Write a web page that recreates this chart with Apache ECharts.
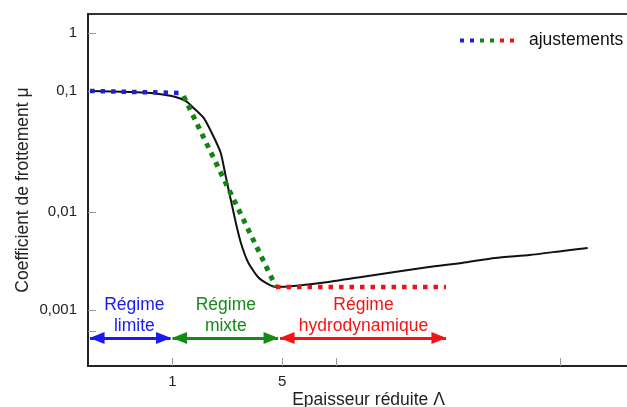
<!DOCTYPE html>
<html><head><meta charset="utf-8">
<script src="https://cdn.jsdelivr.net/npm/echarts@6/dist/echarts.min.js"></script>
<style>html,body{margin:0;padding:0;background:#fff}#c{width:627px;height:407px}</style>
</head><body><div id="c"></div>
<script>
// Stribeck curve — reduced thickness Λ (x) vs friction coefficient μ (y)
const curveLambda = [0.298,0.538,0.723,0.902,1.045,1.211,1.363,1.580,1.831,2.03,2.187,2.354,2.534,2.729,3.026,3.507,4.064,4.57,5.97,9.85,16.0,26.1,43.1,70.2,114,189,307,444];
const curveMu     = [0.1,0.0981,0.0963,0.0927,0.0892,0.0827,0.0724,0.0599,0.0417,0.0307,0.0195,0.01256,0.00773,0.00483,0.00309,0.00217,0.00184,0.00172,0.00176,0.00193,0.00217,0.00244,0.00275,0.00302,0.00340,0.00364,0.00400,0.00429];

// fitted asymptotes ("ajustements")
const fitLimiteLambda = [0.298, 1.125], fitLimiteMu = [0.1, 0.0963];
const fitMixteLambda  = [1.176, 4.57],  fitMixteMu  = [0.0909, 0.00172];
const fitHydroLambda  = [4.57, 55.4],   fitHydroMu  = [0.00172, 0.00172];

// regimes
const regimeNames   = ['Régime\nlimite', 'Régime\nmixte', 'Régime\nhydrodynamique'];
const regimeStart   = [0.298, 1.0, 4.85];
const regimeEnd     = [0.971, 4.71, 55.4];
const regimeLabelAt = [0.571, 2.186, 16.5];
const regimeArrowMu = 0.000518;
const regimeLabelMu = 0.000868;

// ticks
const yTickMu     = [0.001, 0.01, 0.1, 1];
const yTickLabels = ['0,001', '0,01', '0,1', '1'];
const yMinorTickMu = [0.0006];
const xTickLambda = [1, 5, 11, 295];
const xTickLabels = ['1', '5', '', ''];
const xRangeLambda = [0.289, 889];
const yRangeMu = [0.000268, 2.126];

// schematic (non-uniform) log scale of the original figure for μ
const yDecadeScale = [[-3, 56], [-2, 154], [-1, 275], [0, 333]];
function fy(mu) {
  const l = Math.log10(mu);
  const i = l < -2 ? 0 : (l < -1 ? 1 : 2);
  const a = yDecadeScale[i], b = yDecadeScale[i + 1];
  return a[1] + (l - a[0]) * (b[1] - a[1]) / (b[0] - a[0]);
}
const fx = v => Math.log10(v);
const r4 = v => Math.round(v * 10000) / 10000;

const colors = { limite: '#1f1fd6', mixte: '#128412', hydro: '#f01212' };
const textColors = ['#1a1af0', '#168a16', '#f41414'];
const FONT = 'Liberation Sans, Arial, sans-serif';

const pairs = (xs, ys) => xs.map((x, i) => [fx(x), fy(ys[i])]);

const fitStyle = (c, w) => ({ color: c, width: w, type: [w, 10.5 - w], cap: 'butt' });

const xTickVals = xTickLambda.map(fx).map(r4);
const yTickVals = yTickMu.map(fy).map(r4);
const yAllTicks = yTickVals.concat(yMinorTickMu.map(fy).map(r4));

const option = {
  animation: false,
  backgroundColor: '#fff',
  grid: { left: 88, top: 14, right: -8, bottom: 41, containLabel: false, outerBoundsMode: 'none',
    show: true, borderColor: '#333', borderWidth: 2, backgroundColor: 'transparent' },
  xAxis: {
    type: 'value', min: fx(xRangeLambda[0]), max: fx(xRangeLambda[1]),
    axisLine: { onZero: false, lineStyle: { color: '#222', width: 2 } },
    axisTick: { show: true, inside: true, length: 8, lineStyle: { color: '#999', width: 1 }, customValues: xTickVals },
    axisLabel: { show: true, margin: 8, color: '#222', fontSize: 15, fontFamily: FONT, customValues: xTickVals,
      formatter: v => { const i = xTickVals.indexOf(r4(v)); return i >= 0 ? xTickLabels[i] : ''; } },
    splitLine: { show: false },
    name: 'Epaisseur réduite Λ', nameLocation: 'middle', nameGap: 25, nameMoveOverlap: false,
    nameTextStyle: { color: '#222', fontSize: 17.5, fontFamily: FONT, padding: [0, 0, 0, 14] }
  },
  yAxis: {
    type: 'value', min: fy(yRangeMu[0]), max: fy(yRangeMu[1]),
    axisLine: { onZero: false, lineStyle: { color: '#222', width: 2 } },
    axisTick: { show: true, inside: true, length: 8, lineStyle: { color: '#999', width: 1 }, customValues: yAllTicks },
    axisLabel: { show: true, margin: 11, color: '#222', fontSize: 15, fontFamily: FONT, customValues: yTickVals,
      formatter: v => { const i = yTickVals.indexOf(r4(v)); return i >= 0 ? yTickLabels[i] : ''; } },
    splitLine: { show: false },
    name: 'Coefficient de frottement μ', nameLocation: 'middle', nameGap: 56, nameRotate: 90, nameMoveOverlap: false,
    nameTextStyle: { color: '#222', fontSize: 17.5, fontFamily: FONT }
  },
  graphic: [
    ...[colors.limite, colors.limite, colors.mixte, colors.mixte, colors.hydro, colors.hydro].map((c, i) => ({
      type: 'rect', left: 460 + i * 10, top: 38.5, shape: { width: 4, height: 4 }, style: { fill: c }, z: 10
    })),
    { type: 'text', left: 529, top: 31, style: { text: 'ajustements', fill: '#111', font: '17.5px ' + FONT }, z: 10 }
  ],
  series: [
    { type: 'line', name: 'courbe', data: pairs(curveLambda, curveMu), smooth: 0.2, symbol: 'none',
      lineStyle: { color: '#111', width: 2 }, z: 3 },
    { type: 'line', name: 'ajustement limite', data: pairs(fitLimiteLambda, fitLimiteMu), symbol: 'none', lineStyle: fitStyle(colors.limite, 4.5), z: 4 },
    { type: 'line', name: 'ajustement mixte', data: pairs(fitMixteLambda, fitMixteMu), symbol: 'none', lineStyle: fitStyle(colors.mixte, 5), z: 4 },
    { type: 'line', name: 'ajustement hydro', data: pairs(fitHydroLambda, fitHydroMu), symbol: 'none', lineStyle: fitStyle(colors.hydro, 4.5), z: 4 },
    { type: 'line', name: 'regimes', data: [], symbol: 'none',
      markLine: {
        silent: true, symbol: ['triangle', 'triangle'], symbolSize: [12, 15], symbolOffset: [[0, 7], [0, 7]],
        label: { show: false }, emphasis: { disabled: true },
        data: regimeNames.map((n, i) => [
          { coord: [fx(regimeStart[i]), fy(regimeArrowMu)], lineStyle: { color: textColors[i], width: 3, type: 'solid' }, itemStyle: { color: textColors[i] } },
          { coord: [fx(regimeEnd[i]), fy(regimeArrowMu)] }
        ])
      } },
    { type: 'scatter', name: 'labels', symbolSize: 0, silent: true, itemStyle: { opacity: 1 },
      data: regimeNames.map((n, i) => ({ value: [fx(regimeLabelAt[i]), fy(regimeLabelMu)],
        label: { show: true, position: 'inside', formatter: n, color: textColors[i], opacity: 1, fontSize: 17.5, lineHeight: 21, fontFamily: FONT, align: 'center', verticalAlign: 'middle' } })) }
  ]
};
echarts.init(document.getElementById('c')).setOption(option);
</script></body></html>
